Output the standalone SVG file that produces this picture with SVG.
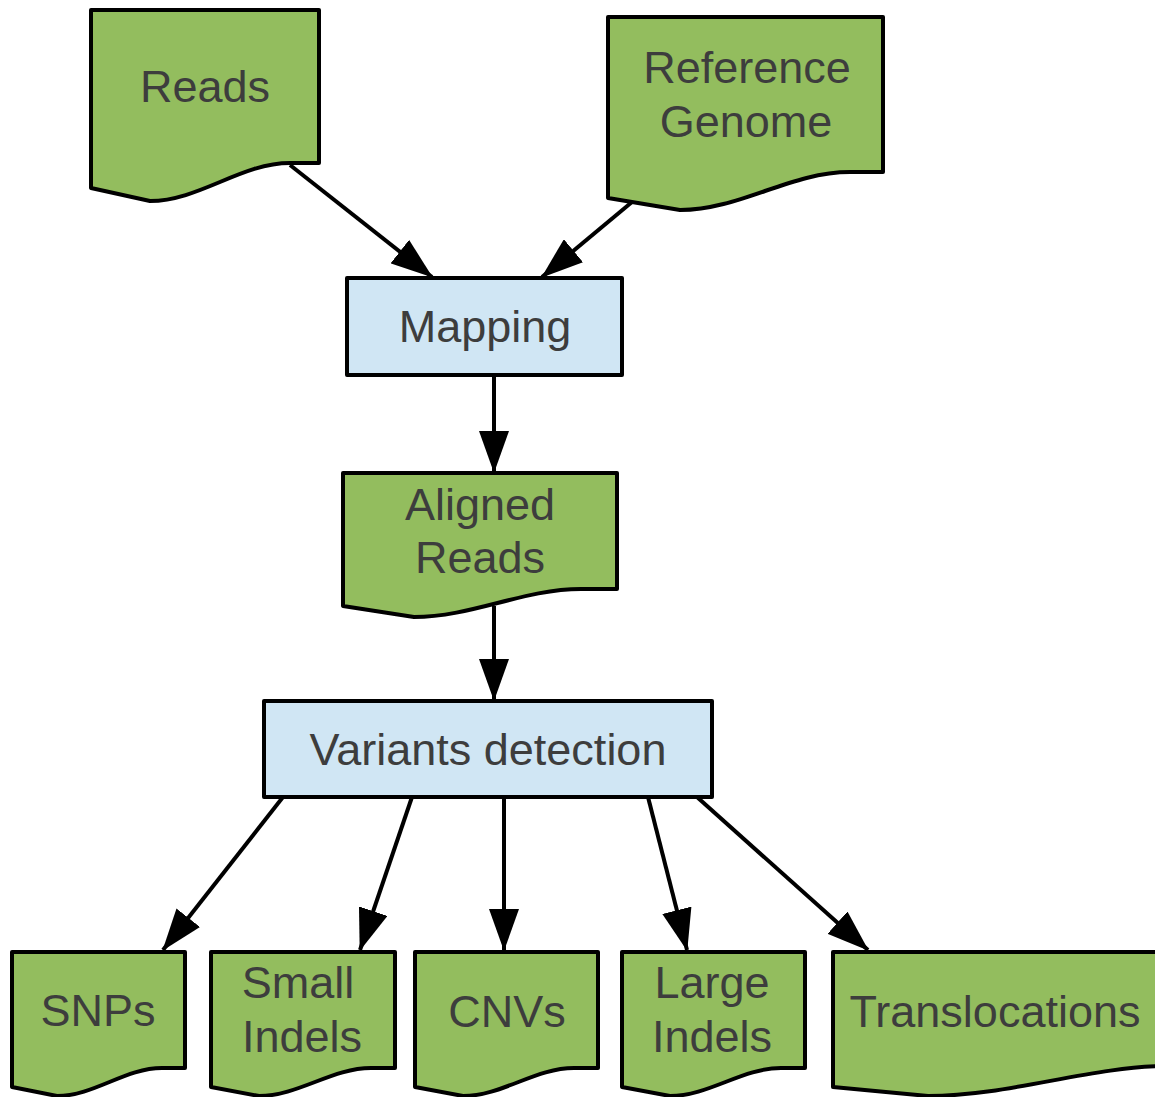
<svg xmlns="http://www.w3.org/2000/svg" width="1155" height="1097" viewBox="0 0 1155 1097">
<style>
.doc{fill:#93bd5e;stroke:#000;stroke-width:4;stroke-linejoin:round}
.proc{fill:#d0e6f4;stroke:#000;stroke-width:4;stroke-linejoin:round}
text{font-family:"Liberation Sans",Arial,sans-serif;font-size:45px;fill:#3d3d3d;text-anchor:middle}
.edge{stroke:#000;stroke-width:4;fill:none}
</style>
<defs>
<marker id="ah" markerUnits="userSpaceOnUse" markerWidth="42" markerHeight="30" viewBox="0 0 42 30" refX="41" refY="15" orient="auto">
<path d="M0,0 L42,15 L0,30 Z" fill="#000"/>
</marker>
</defs>
<rect width="1155" height="1097" fill="#fff"/>
<g id="edges">
<line class="edge" x1="290" y1="165" x2="432" y2="277" marker-end="url(#ah)"/>
<line class="edge" x1="632" y1="202" x2="542" y2="277" marker-end="url(#ah)"/>
<line class="edge" x1="494" y1="375" x2="494" y2="472" marker-end="url(#ah)"/>
<line class="edge" x1="494" y1="606" x2="494" y2="700" marker-end="url(#ah)"/>
<line class="edge" x1="283" y1="797" x2="163" y2="950" marker-end="url(#ah)"/>
<line class="edge" x1="412" y1="797" x2="360" y2="950" marker-end="url(#ah)"/>
<line class="edge" x1="504" y1="797" x2="504" y2="950" marker-end="url(#ah)"/>
<line class="edge" x1="648" y1="797" x2="687" y2="950" marker-end="url(#ah)"/>
<line class="edge" x1="697" y1="797" x2="868" y2="950" marker-end="url(#ah)"/>
</g>
<g id="reads">
<path class="doc" d="M91,10 H319 V163 H290 C241,163 199,201 150,201 L91,188 Z"/>
<text x="205" y="102">Reads</text>
</g>
<g id="refgenome">
<path class="doc" d="M608,17 H883 V172 H850 C790,172 740,210 680,210 L608,198 Z"/>
<text x="747" y="83">Reference</text>
<text x="746" y="137">Genome</text>
</g>
<g id="mapping">
<rect class="proc" x="347" y="278" width="275" height="97"/>
<text x="485" y="342">Mapping</text>
</g>
<g id="aligned">
<path class="doc" d="M343,473 H617 V589 H581 C523,589 472,617 414,617 L343,606 Z"/>
<text x="480" y="520">Aligned</text>
<text x="480" y="573">Reads</text>
</g>
<g id="variants">
<rect class="proc" x="264" y="701" width="448" height="96"/>
<text x="488" y="765">Variants detection</text>
</g>
<g id="snps">
<path class="doc" d="M12,952 H185 V1068 H162 C125,1068 94,1096 57,1096 L12,1087 Z"/>
<text x="98" y="1026">SNPs</text>
</g>
<g id="smallindels">
<path class="doc" d="M211,952 H395 V1068 H371 C332,1068 298,1096 259,1096 L211,1087 Z"/>
<text x="298" y="998">Small</text>
<text x="302" y="1052">Indels</text>
</g>
<g id="cnvs">
<path class="doc" d="M415,952 H598 V1068 H574 C535,1068 502,1096 463,1096 L415,1087 Z"/>
<text x="507" y="1027">CNVs</text>
</g>
<g id="largeindels">
<path class="doc" d="M622,952 H805 V1068 H781 C742,1068 709,1096 670,1096 L622,1087 Z"/>
<text x="712" y="998">Large</text>
<text x="712" y="1052">Indels</text>
</g>
<g id="translocations">
<path class="doc" d="M833,952 H1200 V1066 H1170 C1090,1066 1010,1096 928,1096 L833,1087 Z"/>
<text x="995" y="1027">Translocations</text>
</g>
</svg>
